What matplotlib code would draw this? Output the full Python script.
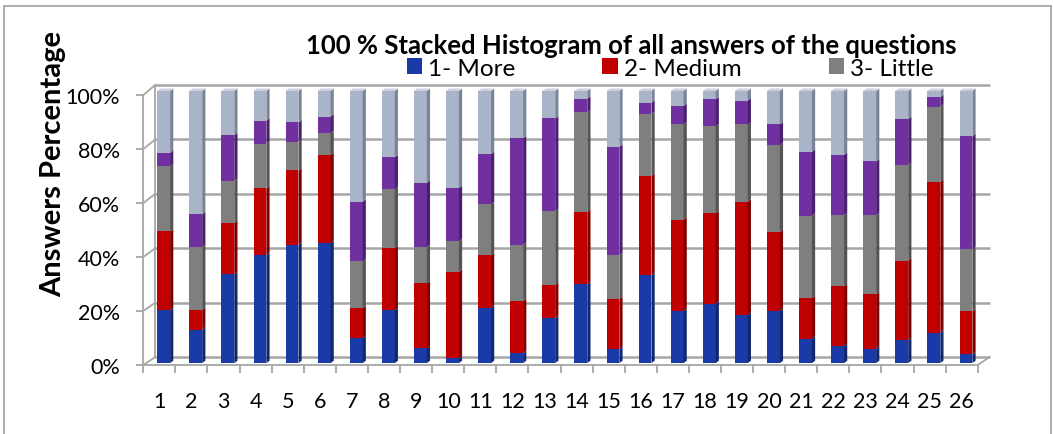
import matplotlib.pyplot as plt
import numpy as np
from matplotlib.patches import Polygon, Rectangle

plt.rcParams['font.family'] = ['Lato', 'DejaVu Sans']

# question numbers and the cumulative tops (percent)
questions = np.arange(1, 27)
top_more = [19.4, 12.3, 32.6, 39.7, 43.5, 44.2, 9.1, 19.4, 5.4, 1.8, 20.4, 3.6, 16.5,
            28.9, 5.2, 32.3, 19.2, 21.9, 17.7, 19.2, 9.0, 6.3, 5.3, 8.5, 11.2, 3.2]
top_medium = [48.4, 19.6, 51.5, 64.2, 70.8, 76.5, 20.2, 42.2, 29.3, 33.5, 39.6, 22.8, 28.7,
              55.5, 23.6, 68.8, 52.7, 55.0, 59.3, 48.1, 23.8, 28.2, 25.3, 37.7, 66.6, 19.0]
top_little = [72.4, 42.6, 67.0, 80.7, 81.4, 84.6, 37.4, 63.8, 42.7, 44.8, 58.4, 43.5, 55.9,
              92.1, 39.6, 91.6, 87.7, 87.0, 87.7, 80.2, 54.2, 54.4, 54.4, 72.7, 94.3, 42.0]
top_fourth = [77.3, 54.7, 83.8, 89.1, 88.5, 90.6, 59.3, 75.6, 66.2, 64.3, 76.8, 82.6, 89.9,
              97.2, 79.5, 95.7, 94.5, 96.9, 96.5, 87.7, 77.6, 76.5, 74.1, 89.7, 97.7, 83.4]
top_fifth = [100.0] * 26

tops = np.array([top_more, top_medium, top_little, top_fourth, top_fifth])
values = np.diff(np.vstack([np.zeros(26), tops]), axis=0)

labels = ['1- More', '2- Medium', '3- Little', None, None]
face = ['#1a3aa8', '#c00000', '#7f7f7f', '#7030a0', '#aab4c8']
side = ['#10286e', '#800000', '#545454', '#4a1f6e', '#7a8496']

fig = plt.figure(figsize=(10.53, 4.35), dpi=100)
ax = fig.add_axes([143.3 / 1053, 69 / 435, 834.4 / 1053, 274 / 435])
ax.set_xlim(0.5, 26.5)
ax.set_ylim(0, 100)

# 3d-ish offsets (data units)
bdx, bdy = 0.37, 2.2     # back wall
sdx, sdy = 0.1, 0.9      # bar side face
fy = -0.7                # front axis

gcol = '#a6a6a6'
for v in range(0, 101, 20):
    ax.plot([0.5 + bdx, 26.5 + bdx], [v + bdy, v + bdy], color=gcol, lw=1.8,
            clip_on=False, zorder=1, solid_capstyle='butt')
    ax.plot([0.5, 0.5 + bdx], [v * 0.992 + fy, v + bdy], color=gcol, lw=1.3,
            clip_on=False, zorder=1)
ax.plot([0.5 + bdx] * 2, [bdy, 100 + bdy], color=gcol, lw=1.3, clip_on=False, zorder=1)
ax.plot([0.5, 0.5], [fy, 99.2 + fy], color=gcol, lw=1.3, clip_on=False, zorder=1)
ax.plot([0.5, 26.5], [fy, fy], color=gcol, lw=1.3, clip_on=False, zorder=1)
ax.plot([26.5, 26.5 + bdx], [fy, bdy], color=gcol, lw=1.3, clip_on=False, zorder=1)

xb = questions + 0.135
w = 0.40
bottom = np.zeros(26)
for i in range(5):
    ax.bar(xb, values[i], w, bottom=bottom, color=face[i], label=labels[i],
           zorder=3, linewidth=0)
    for x0, b, h in zip(xb, bottom, values[i]):
        if h <= 0:
            continue
        xr = x0 + w / 2
        ax.add_patch(Polygon([(xr, b), (xr + sdx, b + sdy), (xr + sdx, b + h + sdy), (xr, b + h)],
                             closed=True, facecolor=side[i], edgecolor='none', zorder=3,
                             clip_on=False))
    bottom = bottom + values[i]

# top faces
for x0 in xb:
    xl, xr = x0 - w / 2, x0 + w / 2
    ax.add_patch(Polygon([(xl, 100), (xr, 100), (xr + sdx, 100 + sdy), (xl + sdx, 100 + sdy)],
                         closed=True, facecolor='#c9d0dc', edgecolor='none', zorder=3,
                         clip_on=False))

for s in ax.spines.values():
    s.set_visible(False)

ax.set_yticks(np.arange(0, 101, 20) * 0.992 + fy)
ax.set_yticklabels([f'{v}%' for v in range(0, 101, 20)], fontsize=15.5)
ax.tick_params(axis='y', length=5, width=1.3, color=gcol, pad=12)
ax.set_xticks(questions)
ax.set_xticklabels([str(q) for q in questions], fontsize=15.5)
ax.set_xticks(np.arange(0.5, 27, 1), minor=True)
ax.tick_params(axis='x', which='major', length=0, pad=19)
ax.tick_params(axis='x', which='minor', length=6, width=1.3, color=gcol)

fig.text(53 / 1053, 1 - 164 / 435, 'Answers Percentage', rotation=90, ha='center',
         va='center', fontsize=21, fontweight='bold')

fig.text(631 / 1053, 1 - 46 / 435, '100 % Stacked Histogram of all answers of the questions',
         ha='center', va='center', fontsize=18.5, fontweight='bold')

handles, labs = ax.get_legend_handles_labels()
fig.legend(handles, labs, loc='center', bbox_to_anchor=(670 / 1053, 1 - 69 / 435), ncol=3,
           frameon=False, fontsize=17.5, handlelength=0.62, handleheight=0.62,
           handletextpad=0.25, columnspacing=3.6, borderaxespad=0, borderpad=0)

fig.patches.append(Rectangle((4 / 1053, -0.05), 1047 / 1053, (435 - 7) / 435 + 0.05,
                             transform=fig.transFigure, fill=False, edgecolor='#a0a0a0',
                             lw=1.2, zorder=0))

fig.savefig('out.png', dpi=100)
